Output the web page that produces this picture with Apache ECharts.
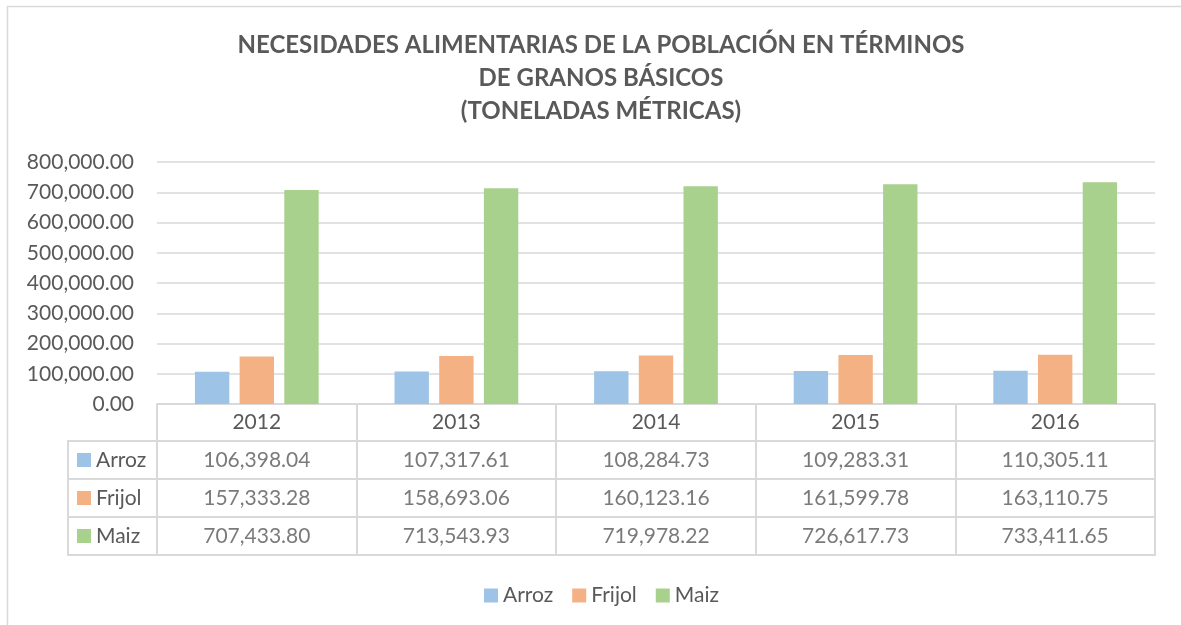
<!DOCTYPE html>
<html>
<head>
<meta charset="utf-8">
<script src="https://cdn.jsdelivr.net/npm/echarts@6/dist/echarts.min.js"></script>
<style>
  html, body { margin: 0; padding: 0; background: #fff; }
  #main { width: 1181px; height: 625px; }
</style>
</head>
<body>
<div id="main"></div>
<script>
var years = ['2012', '2013', '2014', '2015', '2016'];
var seriesNames = ['Arroz', 'Frijol', 'Maiz'];
var arroz = [106398.04, 107317.61, 108284.73, 109283.31, 110305.11];
var frijol = [157333.28, 158693.06, 160123.16, 161599.78, 163110.75];
var maiz = [707433.80, 713543.93, 719978.22, 726617.73, 733411.65];
var colors = ['#9DC3E6', '#F4B183', '#A9D18E'];

var txt = '#595959';
var line = '#d9d9d9';
var font = 'Lato';

// 2 decimales con separador de miles
function fmt(v) {
    var parts = v.toFixed(2).split('.');
    parts[0] = parts[0].replace(/\B(?=(\d{3})+(?!\d))/g, ',');
    return parts.join('.');
}

var values = [arroz, frijol, maiz];

var series = [];
seriesNames.forEach(function(name, i) {
    series.push({
        name: name,
        type: 'bar',
        xAxisIndex: 0,
        yAxisIndex: 0,
        data: values[i],
        barGap: '30%',
        barCategoryGap: '38%',
        itemStyle: { color: colors[i] }
    });
});

// celdas de la tabla
seriesNames.forEach(function(name, i) {
    series.push({
        type: 'scatter',
        xAxisIndex: 1,
        yAxisIndex: 1,
        symbolSize: 0,
        silent: true,
        data: values[i].map(function(v, j) { return [j, i, v]; }),
        label: {
            show: true,
            position: 'inside',
            color: txt,
            fontFamily: font,
            fontSize: 21,
            formatter: function(p) { return fmt(p.value[2]); }
        }
    });
});

var rich = {};
seriesNames.forEach(function(name, i) {
    rich['b' + i] = { width: 14, height: 14, backgroundColor: colors[i] };
});
rich.t = { color: txt, fontFamily: font, fontSize: 21, padding: [0, 0, 0, 5] };

var myChart = echarts.init(document.getElementById('main'));

var option = {
    backgroundColor: '#fff',
    animation: false,
    title: {
        text: 'NECESIDADES ALIMENTARIAS DE LA POBLACIÓN EN TÉRMINOS\nDE GRANOS BÁSICOS\n(TONELADAS MÉTRICAS)',
        left: 596,
        top: 24,
        textAlign: 'center',
        textStyle: {
            color: txt,
            fontFamily: font,
            fontWeight: 'bold',
            fontSize: 24,
            lineHeight: 33
        }
    },
    legend: {
        data: seriesNames,
        left: 479,
        top: 580,
        icon: 'rect',
        itemWidth: 14,
        itemHeight: 14,
        itemGap: 19,
        textStyle: { color: txt, fontFamily: font, fontSize: 21 }
    },
    graphic: [{
        type: 'rect',
        shape: { x: 7.5, y: 6.5, width: 1300, height: 800 },
        style: { fill: 'none', stroke: line, lineWidth: 1.5 },
        silent: true
    }],
    grid: [
        { left: 157, right: 26, top: 162, height: 242 },
        { left: 157, right: 26, top: 441, height: 114, show: true, borderColor: line, borderWidth: 2 },
        { left: 68, width: 89, top: 441, height: 114, show: true, borderColor: line, borderWidth: 2 }
    ],
    xAxis: [
        {
            gridIndex: 0,
            type: 'category',
            data: years,
            axisLine: { show: true, lineStyle: { color: line, width: 2 } },
            axisTick: { show: true, length: 37, lineStyle: { color: line, width: 2 } },
            axisLabel: { color: txt, fontFamily: font, fontSize: 21, margin: 8 }
        },
        {
            gridIndex: 1,
            type: 'category',
            data: years,
            axisLine: { show: false },
            axisTick: { show: false },
            axisLabel: { show: false },
            splitLine: { show: true, interval: 0, lineStyle: { color: line, width: 2 } }
        },
        {
            gridIndex: 2,
            type: 'value',
            show: false
        }
    ],
    yAxis: [
        {
            gridIndex: 0,
            type: 'value',
            min: 0,
            max: 800000,
            interval: 100000,
            axisLine: { show: false },
            axisTick: { show: false },
            axisLabel: {
                color: txt, fontFamily: font, fontSize: 21, margin: 23,
                formatter: function(v) { return fmt(v); }
            },
            splitLine: { lineStyle: { color: line, width: 1.5 } }
        },
        {
            gridIndex: 1,
            type: 'category',
            inverse: true,
            data: seriesNames,
            axisLine: { show: false },
            axisTick: { show: false },
            axisLabel: { show: false },
            splitLine: { show: true, interval: 0, lineStyle: { color: line, width: 2 } }
        },
        {
            gridIndex: 2,
            type: 'category',
            inverse: true,
            data: seriesNames,
            axisLine: { show: false },
            axisTick: { show: false },
            splitLine: { show: true, interval: 0, lineStyle: { color: line, width: 2 } },
            axisLabel: {
                inside: true,
                align: 'left',
                margin: 9,
                formatter: function(v, i) { return '{b' + i + '|}{t|' + v + '}'; },
                rich: rich
            }
        }
    ],
    series: series
};

myChart.setOption(option);
</script>
</body>
</html>
